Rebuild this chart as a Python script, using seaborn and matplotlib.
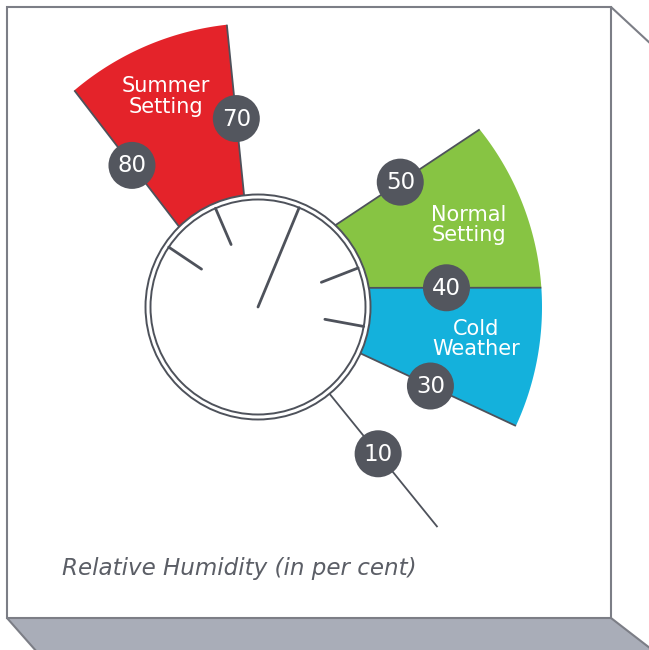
import numpy as np
import pandas as pd
import seaborn as sns
from matplotlib import pyplot as plt
from matplotlib.patches import Polygon, Circle

## data: humidity bands and marked values on the dial
band_names = ["Summer\nSetting", "Normal\nSetting", "Cold\nWeather"]
band_low = [70, 40, 30]
band_high = [80, 50, 40]
band_colors = ["#e4232a", "#87c443", "#14b1dc"]
mark_values = [10, 30, 40, 50, 70, 80]
dial_ticks = [35, 45, 75, 85]
needle_value = 60
title = "Relative Humidity (in per cent)"

## gauge scale (value -> angle in degrees), the dial is not linear
scale_values = [10, 30, 40, 50, 70, 80, 90]
scale_angles = [-50.8, -24.75, 3.9, 38.7, 96.3, 130.3, 162]
# inner ends of some band edges are drawn skewed in the original art
edge_skew = {40: 5.9, 50: 7.9, 80: 4.2, 70: 0.8, 30: 0.4, 10: 0.3}

CX, CY = 258, 307
R_RING = 112.5
R_RING_IN = 107.5
R_OUT = 284
LINE = "#4e525b"
BADGE = "#53565e"
BOX = "#7c7e86"


def angle(v):
    return np.interp(v, scale_values, scale_angles)


def pt(r, a):
    t = np.radians(a)
    return CX + r * np.cos(t), CY - r * np.sin(t)


def edge(v):
    a_out = angle(v)
    a_in = a_out + edge_skew.get(v, 0)
    return pt(R_RING, a_in), pt(R_OUT, a_out)


sns.set_theme(style="white")
plt.rcParams["font.family"] = ["DejaVu Sans"]

fig = plt.figure(figsize=(6.49, 6.5), dpi=100)
ax = fig.add_axes([0, 0, 1, 1])

## the box around the chart
ax.add_patch(Polygon([(7, 618), (611, 618), (655, 652), (37, 652)], closed=True,
                     facecolor="#a9adb8", edgecolor="none", zorder=0))
ax.plot([7, 37], [618, 652], color=BOX, lw=1.5, zorder=1)
ax.plot([611, 655], [618, 652], color=BOX, lw=1.5, zorder=1)
ax.add_patch(Polygon([(7, 7), (611, 7), (611, 618), (7, 618)], closed=True,
                     facecolor="white", edgecolor=BOX, lw=1.5, zorder=1))
ax.plot([611, 652], [7, 45], color=BOX, lw=1.5, zorder=1)

## coloured bands
label_shift = {"Cold\nWeather": (-4, -9), "Summer\nSetting": (-3, -3)}
for name, lo, hi, col in zip(band_names, band_low, band_high, band_colors):
    (ilo, olo), (ihi, ohi) = edge(lo), edge(hi)
    arc = [pt(R_OUT, a) for a in np.linspace(angle(lo), angle(hi), 60)]
    poly = [ilo] + arc + [ihi, (CX, CY)]
    ax.add_patch(Polygon(poly, closed=True, facecolor=col, edgecolor="none", zorder=2))
    mid = (angle(lo) + angle(hi)) / 2
    lx, ly = pt(226, mid)
    dx, dy = label_shift.get(name, (0, 0))
    ax.text(lx + dx, ly + dy, name, color="white", fontsize=15, ha="center", va="center",
            linespacing=1.02, zorder=6)

## edge lines for each marked value
for v in mark_values:
    (x0, y0), (x1, y1) = edge(v)
    ax.plot([x0, x1], [y0, y1], color=LINE, lw=1.3, zorder=3, solid_capstyle="butt")

## the dial
ax.add_patch(Circle((CX, CY), R_RING, facecolor="white", edgecolor=LINE, lw=1.4, zorder=4))
ax.add_patch(Circle((CX, CY), R_RING_IN, facecolor="white", edgecolor=LINE, lw=1.4, zorder=4))
for v in dial_ticks:
    a = angle(v)
    (x0, y0), (x1, y1) = pt(68, a), pt(R_RING_IN, a)
    ax.plot([x0, x1], [y0, y1], color=LINE, lw=2.0, zorder=5, solid_capstyle="round")
(nx, ny) = pt(R_RING_IN, angle(needle_value))
ax.plot([CX, nx], [CY, ny], color=LINE, lw=2.0, zorder=5, solid_capstyle="round")

## number badges
rows = []
for v in mark_values:
    (x0, y0), (x1, y1) = edge(v)
    rows.append({"value": v, "x": x0 + 0.45 * (x1 - x0), "y": y0 + 0.45 * (y1 - y0)})
badges = pd.DataFrame(rows)
sns.scatterplot(data=badges, x="x", y="y", s=(47 * 0.72) ** 2, color=BADGE,
                edgecolor="none", legend=False, zorder=6, ax=ax)
for r in badges.itertuples():
    ax.text(r.x, r.y + 0.5, str(r.value), color="white", fontsize=16.5,
            ha="center", va="center", zorder=7)

ax.text(62, 575, title, color="#5b5e66", fontsize=16.6, style="italic",
        ha="left", va="baseline", zorder=6)

ax.set_xlim(0, 649)
ax.set_ylim(650, 0)
ax.axis("off")
fig.savefig("out.png", dpi=100)
